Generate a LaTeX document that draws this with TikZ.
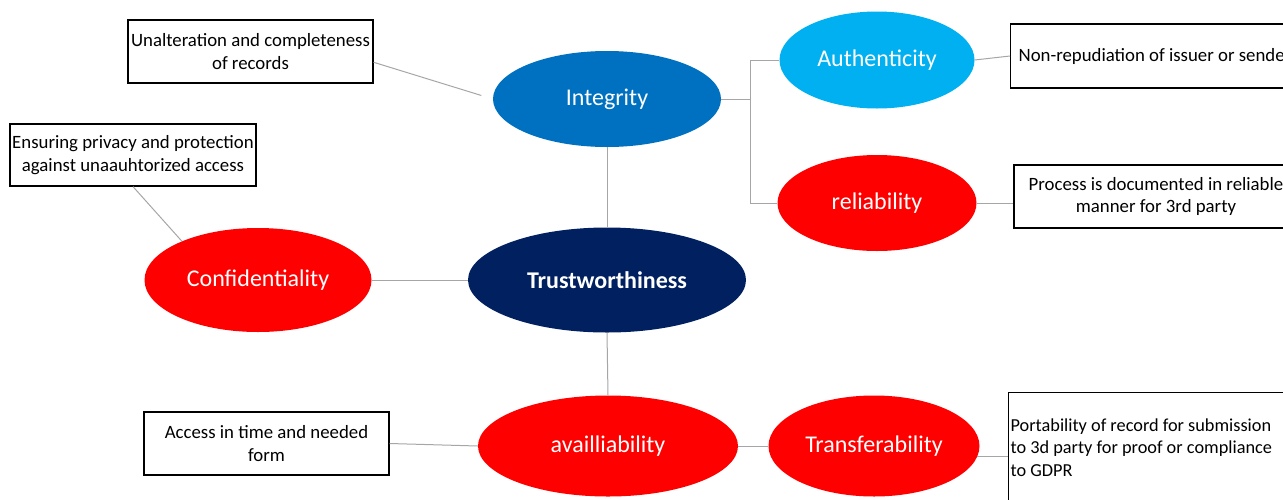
\documentclass[tikz,border=0pt]{standalone}
\usepackage{fontspec}
\setmainfont{Carlito}
\usetikzlibrary{positioning, shapes.geometric}
\definecolor{integblue}{HTML}{0070C0}
\definecolor{authblue}{HTML}{00B0F0}
\definecolor{trustnavy}{HTML}{002060}
\definecolor{linkgray}{HTML}{A6A6A6}

\begin{document}
\begin{tikzpicture}[x=1pt, y=-1pt]
    \tikzstyle{bubble} = [ellipse, text=white, inner sep=0pt, font=\fontsize{24}{28}\selectfont]
    \tikzstyle{note} = [draw, line width=1.2pt, align=center, inner sep=0pt, font=\fontsize{18.8}{22.5}\selectfont]
    \tikzstyle{link} = [draw=linkgray, line width=1pt]
    \clip (0,0) rectangle (1283,499);
    % the bubbles
    \node [bubble, fill=integblue, minimum width=228pt, minimum height=96pt] at (607,99) (integ) {Integrity};
    \node [bubble, fill=authblue, minimum width=195pt, minimum height=97pt] at (877,60) (auth) {Authenticity};
    \node [bubble, fill=red, minimum width=199pt, minimum height=96pt] at (877,203) (reli) {reliability};
    \node [bubble, fill=trustnavy, minimum width=278pt, minimum height=105pt, font=\fontsize{24}{28}\selectfont\bfseries] at (607,280) (trust) {Trustworthiness};
    \node [bubble, fill=red, minimum width=227pt, minimum height=104pt] at (258,280) (conf) {Confidentiality};
    \node [bubble, fill=red, minimum width=260pt, minimum height=101pt] at (608,446) (avail) {availliability};
    \node [bubble, fill=red, minimum width=211pt, minimum height=101pt] at (874,446) (trans) {Transferability};
    % the notes
    \node [note, minimum width=245pt, minimum height=63pt] at (250.5,51.5) (unalt) {Unalteration and completeness\\of records};
    \node [note, minimum width=246pt, minimum height=62pt] at (133,155) (ensure) {Ensuring privacy and protection\\against unaauhtorized access};
    \node [note, minimum width=245pt, minimum height=63pt] at (266.5,443.5) (access) {Access in time and needed\\form};
    \node [note, anchor=west, inner xsep=8pt, minimum height=64pt] at (1010,56) (nonrep) {Non-repudiation of issuer or sender};
    \node [note, minimum width=284pt, minimum height=63pt] at (1156,196.5) (proc) {Process is documented in reliable\\manner for 3rd party};
    \node [note, anchor=north west, align=flush left, text width=296pt, inner xsep=2pt, minimum height=110pt, font=\fontsize{18.3}{22.5}\selectfont] at (1008,392) (port) {Portability of record for submission\\to 3d party for proof or compliance\\to GDPR};
    % the links
    \coordinate [right=29pt of integ.east] (fork);
    \draw [link] (integ.east) -- (fork) |- (auth.west);
    \draw [link] (fork) |- (reli.west);
    \draw [link, shorten >=12pt] (unalt.-5) -- (integ.west);
    \draw [link] (auth.east) -- (nonrep.west);
    \draw [link] (reli.east) -- (proc.west |- reli.east);
    \draw [link] (integ.south) -- (trust.north);
    \draw [link] (conf.east) -- (trust.west);
    \draw [link] (ensure.south) -- (conf.153);
    \draw [link] (trust.south) -- (avail.north);
    \draw [link] (access.east) -- (avail.west);
    \draw [link] (avail.east) -- (trans.west);
    \draw [link] (trans.-6) -- (port.west |- trans.-6);
\end{tikzpicture}
\end{document}
